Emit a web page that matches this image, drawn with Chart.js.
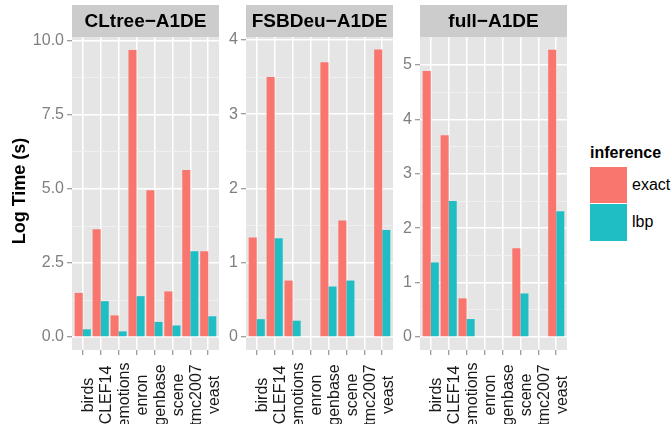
<!DOCTYPE html>
<html>
<head>
<meta charset="utf-8">
<script src="https://cdn.jsdelivr.net/npm/chart.js"></script>
<style>
body { margin: 0; background: #fff; }
.wrap { position: relative; width: 672px; height: 424px; overflow: hidden; font-family: "Liberation Sans", Arial, sans-serif; }
.wrap canvas { position: absolute; top: 0; }
.legend-title { position: absolute; left: 590px; top: 144px; font-size: 16px; font-weight: bold; line-height: 18px; color: #000; }
.key { position: absolute; left: 590px; width: 37px; }
.key-label { position: absolute; left: 632px; font-size: 16px; line-height: 18px; color: #000; }
</style>
</head>
<body>
<div class="wrap">
    <canvas id="panel1" width="219" height="424" style="left:0px"></canvas>
    <canvas id="panel2" width="172" height="424" style="left:221px"></canvas>
    <canvas id="panel3" width="172" height="424" style="left:395px"></canvas>

    <div class="legend-title">inference</div>
    <div class="key" style="top:167px;height:36px;background:#F8766D"></div>
    <div class="key" style="top:204px;height:37px;background:#1EBEC4"></div>
    <div class="key-label" style="top:176px">exact</div>
    <div class="key-label" style="top:213px">lbp</div>
</div>

<script>
const categories = ['birds', 'CLEF14', 'emotions', 'enron', 'genbase', 'scene', 'tmc2007', 'yeast'];
const facetTitles = ['CLtree\u2212A1DE', 'FSBDeu\u2212A1DE', 'full\u2212A1DE'];

const cltreeExact = [1.49, 3.64, 0.73, 9.70, 4.96, 1.54, 5.64, 2.90];
const cltreeLbp   = [0.26, 1.21, 0.19, 1.38, 0.51, 0.39, 2.90, 0.70];
const fsbdeuExact = [1.34, 3.50, 0.76, null, 3.70, 1.57, null, 3.87];
const fsbdeuLbp   = [0.24, 1.33, 0.22, null, 0.68, 0.76, null, 1.44];
const fullExact   = [4.89, 3.71, 0.71, null, null, 1.63, null, 5.28];
const fullLbp     = [1.37, 2.50, 0.33, null, null, 0.80, null, 2.31];

const cltreeTicks = [0, 2.5, 5, 7.5, 10];
const cltreeTickLabels = ['0.0', '2.5', '5.0', '7.5', '10.0'];
const fsbdeuTicks = [0, 1, 2, 3, 4];
const fsbdeuTickLabels = ['0', '1', '2', '3', '4'];
const fullTicks = [0, 1, 2, 3, 4, 5];
const fullTickLabels = ['0', '1', '2', '3', '4', '5'];

const FONT = '"Liberation Sans", Arial, sans-serif';

// grey panel bg, strip on top, rotated category labels, y title
const facetPlugin = {
    id: 'facet',
    beforeDraw(chart) {
        const ctx = chart.ctx;
        const a = chart.chartArea;
        ctx.save();
        ctx.fillStyle = '#E5E5E5';
        ctx.fillRect(a.left, a.top, a.right - a.left, a.bottom - a.top);
        ctx.restore();
    },
    afterDraw(chart) {
        const ctx = chart.ctx;
        const a = chart.chartArea;
        const opts = chart.options.plugins.facet;
        ctx.save();
        ctx.fillStyle = '#CCCCCC';
        ctx.fillRect(a.left, 5, a.right - a.left, a.top - 5);
        ctx.fillStyle = '#000000';
        ctx.font = 'bold 19px ' + FONT;
        ctx.textAlign = 'center';
        ctx.textBaseline = 'middle';
        ctx.fillText(opts.title, (a.left + a.right) / 2, (a.top + 5) / 2 + 1);

        const xs = chart.scales.x;
        ctx.font = '16px ' + FONT;
        ctx.fillStyle = '#1A1A1A';
        categories.forEach((name, i) => {
            ctx.save();
            ctx.translate(xs.getPixelForValue(i) + 6, 395);
            ctx.rotate(-Math.PI / 2);
            ctx.fillText(name, 0, 0);
            ctx.restore();
        });

        if (opts.yTitle) {
            ctx.save();
            ctx.font = 'bold 18px ' + FONT;
            ctx.fillStyle = '#000000';
            ctx.translate(20, 191);
            ctx.rotate(-Math.PI / 2);
            ctx.fillText(opts.yTitle, 0, 0);
            ctx.restore();
        }
        ctx.restore();
    }
};

function makePanel(id, title, exact, lbp, majors, majorLabels, yMin, yMax, axisWidth, yTitle) {
    const minors = majors.slice(1).map((v, i) => (v + majors[i]) / 2);
    const allTicks = majors.concat(minors).sort((p, q) => p - q);
    const isMajor = v => majors.indexOf(v) >= 0;

    new Chart(document.getElementById(id), {
        type: 'bar',
        data: {
            datasets: [
                {
                    label: 'exact',
                    data: categories.map((c, i) => ({ x: i, y: exact[i] })),
                    backgroundColor: '#F8766D',
                    categoryPercentage: 0.9,
                    barPercentage: 1.0,
                    borderWidth: 0
                },
                {
                    label: 'lbp',
                    data: categories.map((c, i) => ({ x: i, y: lbp[i] })),
                    backgroundColor: '#1EBEC4',
                    categoryPercentage: 0.9,
                    barPercentage: 1.0,
                    borderWidth: 0
                }
            ]
        },
        options: {
            responsive: false,
            animation: false,
            devicePixelRatio: 1,
            layout: { padding: { top: 37, left: 0, right: 0, bottom: 0 } },
            plugins: {
                legend: { display: false },
                tooltip: { enabled: false },
                facet: { title: title, yTitle: yTitle }
            },
            scales: {
                x: {
                    type: 'linear',
                    min: -0.6,
                    max: 7.6,
                    offset: false,
                    afterBuildTicks: s => { s.ticks = categories.map((c, i) => ({ value: i })); },
                    afterFit: s => { s.height = 74; },
                    ticks: { display: false },
                    grid: { offset: false, color: '#FFFFFF', lineWidth: 1.5, tickLength: 5, tickColor: '#7F7F7F', tickWidth: 1 },
                    border: { display: false }
                },
                y: {
                    min: yMin,
                    max: yMax,
                    afterBuildTicks: s => { s.ticks = allTicks.map(v => ({ value: v })); },
                    afterFit: s => { s.width = axisWidth; },
                    ticks: {
                        autoSkip: false,
                        color: '#7F7F7F',
                        padding: 3,
                        font: { size: 16, family: FONT },
                        callback: v => isMajor(v) ? majorLabels[majors.indexOf(v)] : ''
                    },
                    grid: {
                        color: c => isMajor(c.tick.value) ? '#FFFFFF' : '#F2F2F2',
                        lineWidth: c => isMajor(c.tick.value) ? 1.5 : 0.8,
                        tickLength: 5,
                        tickWidth: 1,
                        tickColor: c => isMajor(c.tick.value) ? '#7F7F7F' : 'rgba(0,0,0,0)'
                    },
                    border: { display: false }
                }
            }
        },
        plugins: [facetPlugin]
    });
}

makePanel('panel1', facetTitles[0], cltreeExact, cltreeLbp, cltreeTicks, cltreeTickLabels, -0.439, 10.135, 72, 'Log Time (s)');
makePanel('panel2', facetTitles[1], fsbdeuExact, fsbdeuLbp, fsbdeuTicks, fsbdeuTickLabels, -0.175, 4.04, 25, null);
makePanel('panel3', facetTitles[2], fullExact, fullLbp, fullTicks, fullTickLabels, -0.239, 5.515, 25, null);
</script>
</body>
</html>
